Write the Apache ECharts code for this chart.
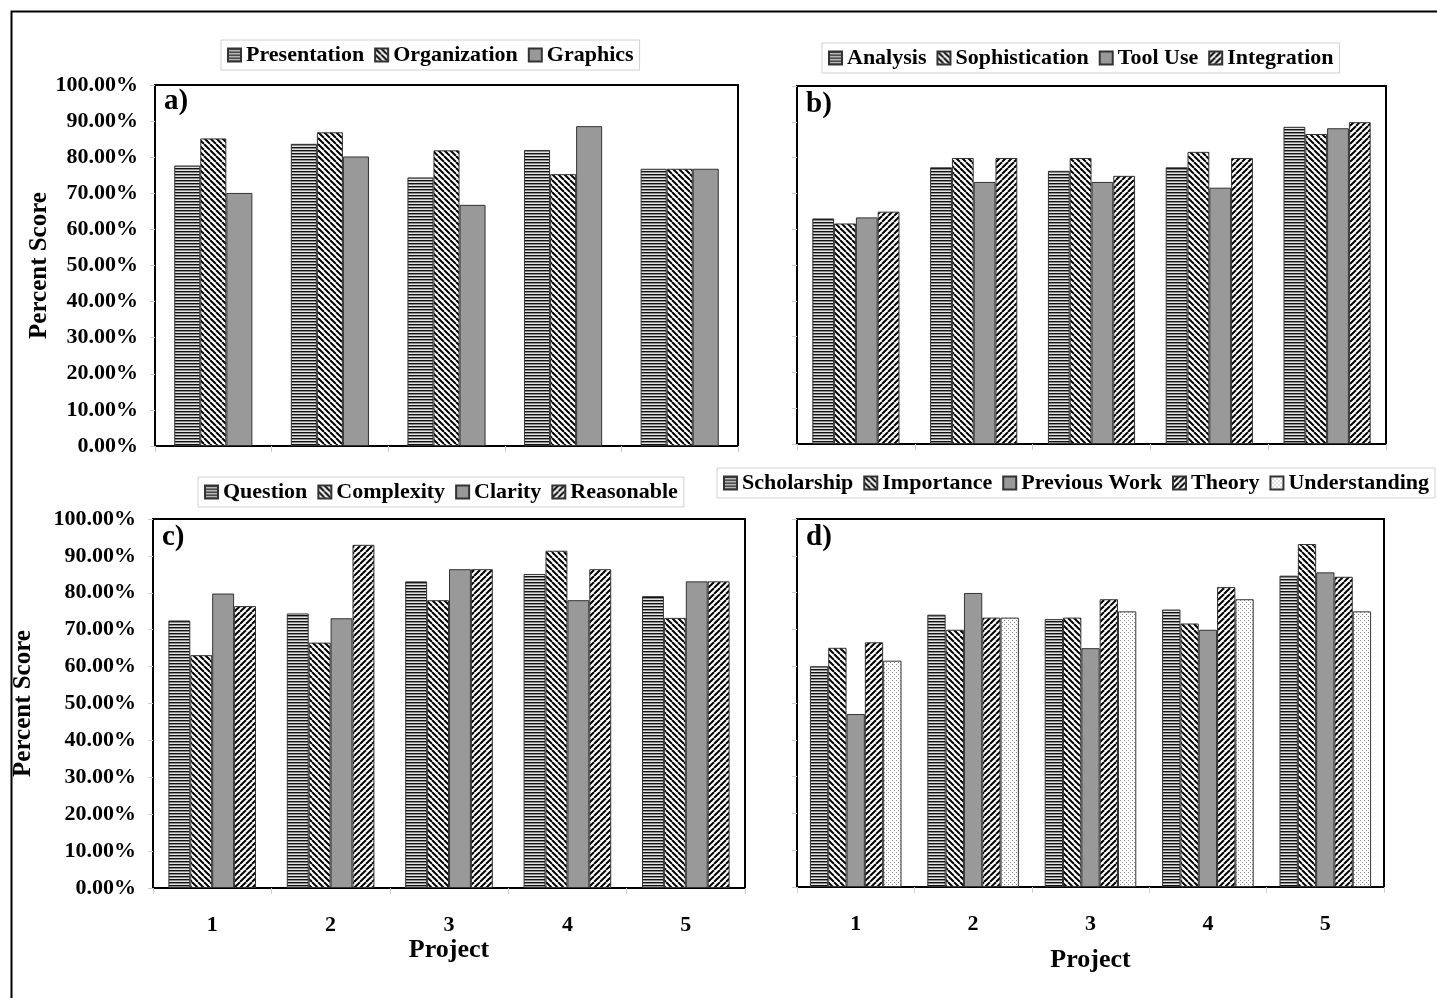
<!DOCTYPE html>
<html>
<head>
<meta charset="utf-8">
<script src="https://cdn.jsdelivr.net/npm/echarts@6/dist/echarts.min.js"></script>
<style>
  html, body { margin: 0; padding: 0; background: #fff; }
  #chart { width: 1437px; height: 998px; }
</style>
</head>
<body>
<div id="chart"></div>
<script>
// project numbers on the x axis
var projects = ['1', '2', '3', '4', '5'];
var yTicks = [0, 10, 20, 30, 40, 50, 60, 70, 80, 90, 100];

// a) writing quality
var aNames = ['Presentation', 'Organization', 'Graphics'];
var presentation = [77.7, 83.7, 74.4, 82.0, 76.8];
var organization = [85.2, 86.9, 81.9, 75.3, 76.8];
var graphics = [70.1, 80.2, 66.8, 88.6, 76.8];

// b) technical content
var bNames = ['Analysis', 'Sophistication', 'Tool Use', 'Integration'];
var analysis = [63.0, 77.3, 76.3, 77.3, 88.6];
var sophistication = [61.6, 79.9, 79.9, 81.6, 86.6];
var toolUse = [63.3, 73.2, 73.2, 71.6, 88.2];
var integration = [64.9, 79.9, 74.9, 79.9, 89.9];

// c) problem statement
var cNames = ['Question', 'Complexity', 'Clarity', 'Reasonable'];
var question = [72.5, 74.4, 83.1, 85.1, 79.1];
var complexity = [63.1, 66.5, 78.0, 91.4, 73.2];
var clarity = [79.8, 73.1, 86.4, 78.0, 83.1];
var reasonable = [76.4, 93.0, 86.4, 86.4, 83.1];

// d) background research
var dNames = ['Scholarship', 'Importance', 'Previous Work', 'Theory', 'Understanding'];
var scholarship = [60.0, 74.0, 72.8, 75.4, 84.6];
var importance = [65.0, 69.9, 73.2, 71.6, 93.2];
var previousWork = [47.0, 79.9, 64.9, 69.9, 85.5];
var theory = [66.5, 73.2, 78.2, 81.5, 84.3];
var understanding = [61.5, 73.2, 74.9, 78.2, 74.9];

var FONT = '"Liberation Serif", "Times New Roman", serif';

// 填充图案 (excel style hatching)
function makePattern(kind) {
  var c = document.createElement('canvas');
  var ctx = c.getContext('2d');
  if (kind === 'horiz') {
    c.width = 6; c.height = 3;
    ctx.fillStyle = '#e4e4e4';
    ctx.fillRect(0, 0, 6, 3);
    ctx.fillStyle = '#111';
    ctx.fillRect(0, 0, 6, 1);
    ctx.fillStyle = '#8a8a8a';
    ctx.fillRect(0, 1, 6, 1);
  } else if (kind === 'back' || kind === 'fwd') {
    var s = 6;
    c.width = s; c.height = s;
    ctx.fillStyle = '#fff';
    ctx.fillRect(0, 0, s, s);
    ctx.strokeStyle = '#000';
    ctx.lineWidth = 2;
    for (var o = -s; o <= s; o += s) {
      ctx.beginPath();
      if (kind === 'back') {
        ctx.moveTo(o, 0); ctx.lineTo(o + s, s);
      } else {
        ctx.moveTo(o, s); ctx.lineTo(o + s, 0);
      }
      ctx.stroke();
    }
  } else if (kind === 'dots') {
    c.width = 4; c.height = 4;
    ctx.fillStyle = '#fff';
    ctx.fillRect(0, 0, 4, 4);
    ctx.fillStyle = '#8c8c8c';
    ctx.fillRect(0, 0, 1, 1);
    ctx.fillRect(2, 2, 1, 1);
  }
  return { image: c, repeat: 'repeat' };
}

var fills = {
  horiz: makePattern('horiz'),
  back: makePattern('back'),
  fwd: makePattern('fwd'),
  solid: '#999999',
  dots: makePattern('dots')
};

var grids = [
  { left: 155, top: 85, width: 583, height: 361 },
  { left: 797, top: 86, width: 589, height: 358 },
  { left: 153, top: 519, width: 592, height: 369 },
  { left: 797, top: 519, width: 587, height: 368 }
];

function yAxisFor(i, showLabels, nameGap) {
  return {
    gridIndex: i,
    type: 'value',
    min: 0, max: 100, interval: 10,
    name: showLabels ? 'Percent Score' : '',
    nameLocation: 'middle',
    nameGap: nameGap,
    nameTextStyle: { fontFamily: FONT, fontWeight: 'bold', fontSize: 25, color: '#000' },
    splitLine: { show: false },
    axisLine: { show: false },
    axisTick: { show: true, length: 5, lineStyle: { color: '#ccc' } },
    axisLabel: {
      show: showLabels,
      margin: 17,
      fontFamily: FONT, fontWeight: 'bold', fontSize: 22, color: '#000',
      formatter: function (v) { return v.toFixed(2) + '%'; }
    }
  };
}

function xAxisFor(i, showLabels, nameGap) {
  return {
    gridIndex: i,
    type: 'category',
    data: projects,
    name: showLabels ? 'Project' : '',
    nameLocation: 'middle',
    nameGap: nameGap,
    nameTextStyle: { fontFamily: FONT, fontWeight: 'bold', fontSize: 26, color: '#000' },
    axisLine: { show: false },
    axisTick: { show: true, length: 6, lineStyle: { color: '#ccc' } },
    axisLabel: {
      show: showLabels,
      margin: 26,
      fontFamily: FONT, fontWeight: 'bold', fontSize: 22, color: '#000'
    }
  };
}

function bar(name, data, fill, idx, gap) {
  return {
    name: name,
    type: 'bar',
    xAxisIndex: idx,
    yAxisIndex: idx,
    data: data,
    barGap: '0%',
    barCategoryGap: gap,
    itemStyle: { color: fill, borderColor: '#333', borderWidth: 1 },
    emphasis: { disabled: true },
    animation: false
  };
}

function legendFor(names, left, top) {
  return {
    data: names,
    left: left,
    top: top,
    orient: 'horizontal',
    itemWidth: 13,
    itemHeight: 13,
    itemGap: 10,
    padding: [4, 6],
    borderColor: '#d0d0d0',
    borderWidth: 1,
    icon: 'rect',
    selectedMode: false,
    textStyle: { fontFamily: FONT, fontWeight: 'bold', fontSize: 22, color: '#000' }
  };
}

var series = [
  bar('Presentation', presentation, fills.horiz, 0, '33%'),
  bar('Organization', organization, fills.back, 0, '33%'),
  bar('Graphics', graphics, fills.solid, 0, '33%'),

  bar('Analysis', analysis, fills.horiz, 1, '26%'),
  bar('Sophistication', sophistication, fills.back, 1, '26%'),
  bar('Tool Use', toolUse, fills.solid, 1, '26%'),
  bar('Integration', integration, fills.fwd, 1, '26%'),

  bar('Question', question, fills.horiz, 2, '26%'),
  bar('Complexity', complexity, fills.back, 2, '26%'),
  bar('Clarity', clarity, fills.solid, 2, '26%'),
  bar('Reasonable', reasonable, fills.fwd, 2, '26%'),

  bar('Scholarship', scholarship, fills.horiz, 3, '22%'),
  bar('Importance', importance, fills.back, 3, '22%'),
  bar('Previous Work', previousWork, fills.solid, 3, '22%'),
  bar('Theory', theory, fills.fwd, 3, '22%'),
  bar('Understanding', understanding, fills.dots, 3, '22%')
];

var chart = echarts.init(document.getElementById('chart'), null, { renderer: 'canvas' });

var option = {
  backgroundColor: '#fff',
  grid: grids.map(function (g) {
    return Object.assign({ show: true, borderColor: '#000', borderWidth: 2, backgroundColor: '#fff' }, g);
  }),
  xAxis: [xAxisFor(0, false, 0), xAxisFor(1, false, 0), xAxisFor(2, true, 48), xAxisFor(3, true, 60)],
  yAxis: [yAxisFor(0, true, 101), yAxisFor(1, false, 0), yAxisFor(2, true, 117), yAxisFor(3, false, 0)],
  legend: [
    legendFor(aNames, 221, 40),
    legendFor(bNames, 822, 43),
    legendFor(cNames, 198, 477),
    legendFor(dNames, 717, 468)
  ],
  graphic: [
    // outer frame
    { type: 'rect', left: 9, top: 9, shape: { width: 1440, height: 1000 }, style: { fill: 'none', stroke: '#000', lineWidth: 2 }, silent: true },
    { type: 'text', left: 164, top: 87, style: { text: 'a)', font: 'bold 29px ' + FONT, fill: '#000' } },
    { type: 'text', left: 806, top: 90, style: { text: 'b)', font: 'bold 29px ' + FONT, fill: '#000' } },
    { type: 'text', left: 162, top: 523, style: { text: 'c)', font: 'bold 29px ' + FONT, fill: '#000' } },
    { type: 'text', left: 806, top: 523, style: { text: 'd)', font: 'bold 29px ' + FONT, fill: '#000' } }
  ],
  series: series
};

chart.setOption(option);
</script>
</body>
</html>
